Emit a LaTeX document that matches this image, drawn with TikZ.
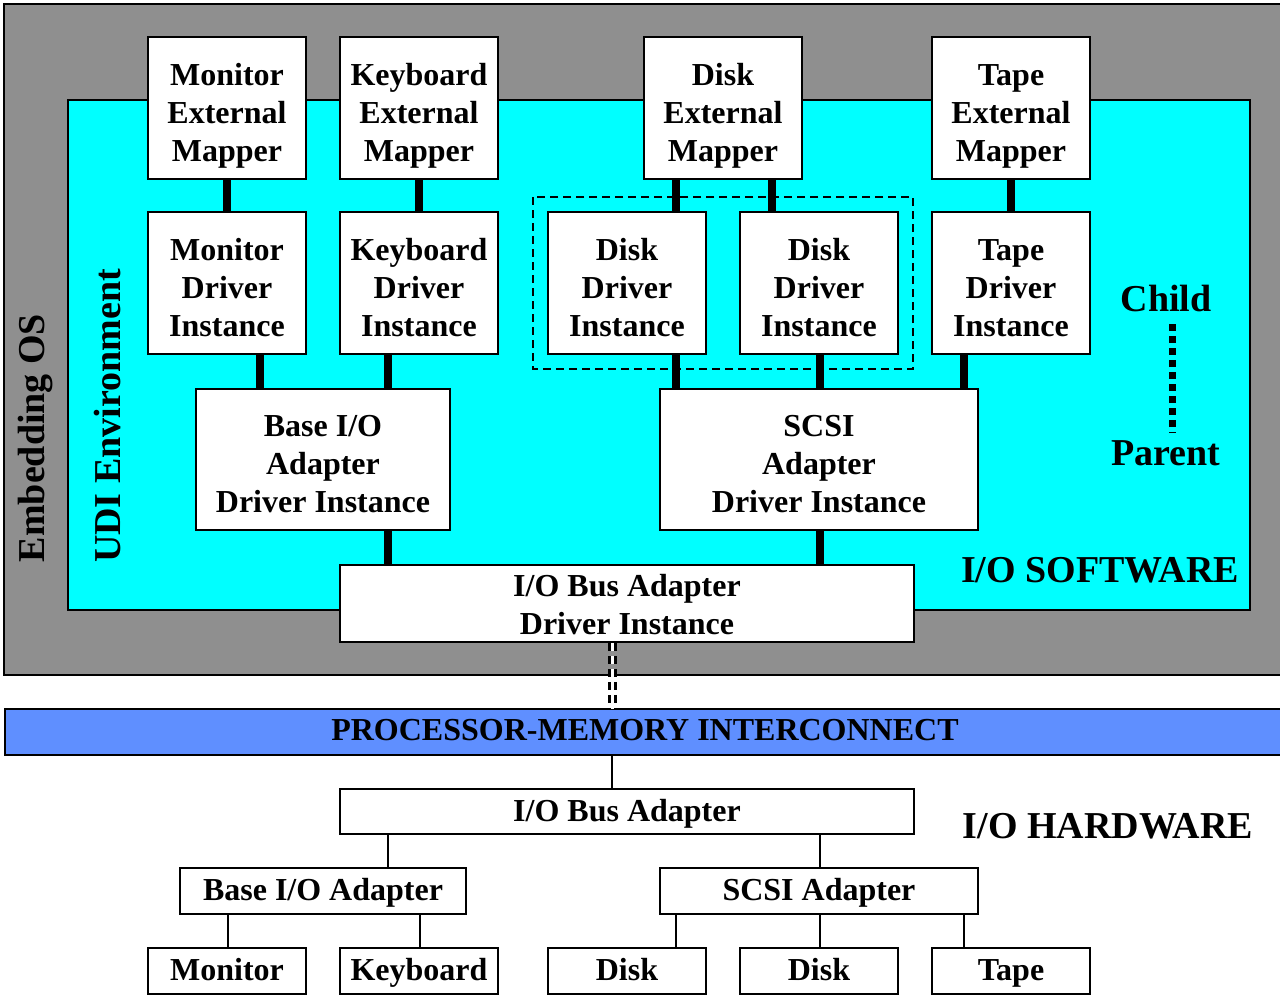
\documentclass[tikz,border=0pt]{standalone}
\usepackage{fontspec}
\setmainfont{Liberation Serif}
\usetikzlibrary{arrows,positioning}
\definecolor{osgray}{RGB}{143,143,143}
\definecolor{udicyan}{RGB}{0,255,255}
\definecolor{busblue}{RGB}{95,143,255}
\tikzstyle{box}=[draw,fill=white,inner sep=0pt,align=center,line width=0.75pt]
\tikzstyle{three}=[box,text height=57pt,text depth=4pt]
\tikzstyle{one}=[text height=10pt,text depth=0.5pt]
\tikzstyle{tall}=[three,minimum width=79pt,minimum height=71pt]
\tikzstyle{small}=[box,one,minimum width=79pt,minimum height=23pt]
\tikzstyle{link}=[line width=4pt]
\tikzstyle{wire}=[line width=1.25pt]
\tikzstyle{biglabel}=[font=\fontsize{19}{22}\selectfont\bfseries]
\begin{document}
\begin{tikzpicture}[x=0.5pt,y=-0.5pt,font=\fontsize{16}{19}\selectfont\bfseries]
\useasboundingbox (0,0) rectangle (1280,997);
% software side
\draw[fill=osgray,line width=0.75pt] (4,4) rectangle (1290,675);
\draw[fill=udicyan,line width=0.75pt] (68,100) rectangle (1250,610);
\node[biglabel,rotate=90] (os) at (36,438) {Embedding OS};
\node[biglabel,rotate=90] (udi) at (108,416) {UDI Environment};
\node[biglabel] (sw) at (1100,570) {I/O SOFTWARE};
\node[biglabel] (child) at (1166,298) {Child};
\node[biglabel] (parent) at (1166,453) {Parent};
\draw[line width=3.5pt,dash pattern=on 3.5pt off 2.5pt] (child.south) ++(6,6) -- (parent.north -| 1172,0);
\draw[line width=1.3pt,dash pattern=on 4pt off 2.5pt] (533,197) rectangle (913,369);
\node[tall] (mmap) at (227,108) {Monitor\\External\\Mapper};
\node[tall] (kmap) at (419,108) {Keyboard\\External\\Mapper};
\node[tall] (dmap) at (723,108) {Disk\\External\\Mapper};
\node[tall] (tmap) at (1011,108) {Tape\\External\\Mapper};
\node[tall] (mdrv) at (227,283) {Monitor\\Driver\\Instance};
\node[tall] (kdrv) at (419,283) {Keyboard\\Driver\\Instance};
\node[tall] (ddrvA) at (627,283) {Disk\\Driver\\Instance};
\node[tall] (ddrvB) at (819,283) {Disk\\Driver\\Instance};
\node[tall] (tdrv) at (1011,283) {Tape\\Driver\\Instance};
\node[three,minimum width=127pt,minimum height=70.5pt] (bdrv) at (323,459.5) {Base I/O\\Adapter\\Driver Instance};
\node[three,minimum width=159pt,minimum height=70.5pt] (sdrv) at (819,459.5) {SCSI\\Adapter\\Driver Instance};
\node[box,text height=34.5pt,text depth=4pt,minimum width=287pt,minimum height=38.5pt] (busdrv) at (627,603.5) {I/O Bus Adapter\\Driver Instance};
\draw[link] (mmap) -- (mdrv);
\draw[link] (kmap) -- (kdrv);
\draw[link] (dmap.south -| 676,0) -- (ddrvA.north -| 676,0);
\draw[link] (dmap.south -| 772,0) -- (ddrvB.north -| 772,0);
\draw[link] (tmap) -- (tdrv);
\draw[link] (mdrv.south -| 260,0) -- (bdrv.north -| 260,0);
\draw[link] (kdrv.south -| 388,0) -- (bdrv.north -| 388,0);
\draw[link] (ddrvA.south -| 676,0) -- (sdrv.north -| 676,0);
\draw[link] (ddrvB.south -| 820,0) -- (sdrv.north -| 820,0);
\draw[link] (tdrv.south -| 964,0) -- (sdrv.north -| 964,0);
\draw[link] (bdrv.south -| 388,0) -- (busdrv.north -| 388,0);
\draw[link] (sdrv.south -| 820,0) -- (busdrv.north -| 820,0);
% interconnect
\node[draw,fill=busblue,line width=0.75pt,minimum width=640pt,minimum height=23pt,inner sep=0pt,anchor=north west] (pmi) at (4,708) {};
\node[one] (pmitext) at (645,731) {PROCESSOR-MEMORY INTERCONNECT};
\draw[line width=1.5pt,double=white,double distance=1.5pt,dash pattern=on 4pt off 2.5pt] (busdrv.south -| 612,0) -- (pmi.north -| 612,0);
% hardware side
\node[biglabel] (hw) at (1108,826) {I/O HARDWARE};
\node[box,one,minimum width=287pt,minimum height=22.5pt] (bus) at (627,811.5) {I/O Bus Adapter};
\node[box,one,minimum width=143pt,minimum height=23pt] (bio) at (323,891) {Base I/O Adapter};
\node[box,one,minimum width=159pt,minimum height=23pt] (scsi) at (819,891) {SCSI Adapter};
\node[small] (mon) at (227,971) {Monitor};
\node[small] (kbd) at (419,971) {Keyboard};
\node[small] (diskA) at (627,971) {Disk};
\node[small] (diskB) at (819,971) {Disk};
\node[small] (tape) at (1011,971) {Tape};
\draw[wire] (pmi.south -| 612,0) -- (bus.north -| 612,0);
\draw[wire] (bus.south -| 388,0) -- (bio.north -| 388,0);
\draw[wire] (bus.south -| 820,0) -- (scsi.north -| 820,0);
\draw[wire] (bio.south -| 228,0) -- (mon.north -| 228,0);
\draw[wire] (bio.south -| 420,0) -- (kbd.north -| 420,0);
\draw[wire] (scsi.south -| 676,0) -- (diskA.north -| 676,0);
\draw[wire] (scsi.south -| 820,0) -- (diskB.north -| 820,0);
\draw[wire] (scsi.south -| 964,0) -- (tape.north -| 964,0);
\end{tikzpicture}
\end{document}
